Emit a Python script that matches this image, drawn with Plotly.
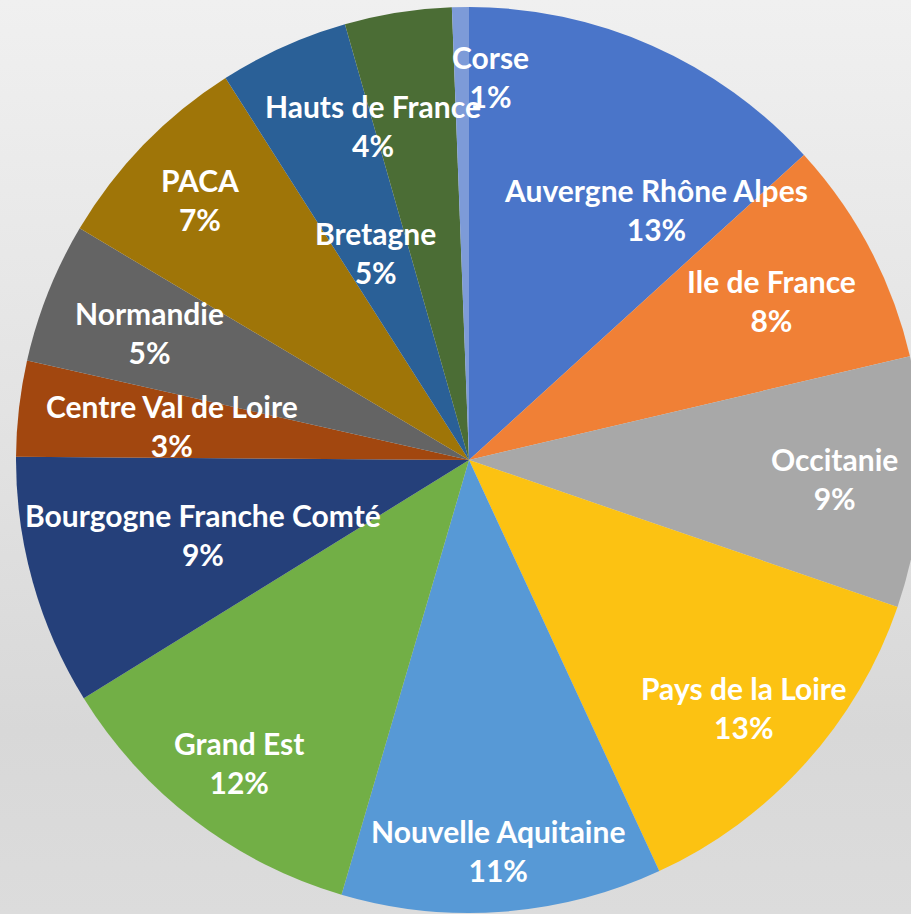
import math
import plotly.graph_objects as go

# ---- data ----
regions = ["Auvergne Rhône Alpes", "Ile de France", "Occitanie", "Pays de la Loire",
           "Nouvelle Aquitaine", "Grand Est", "Bourgogne Franche Comté",
           "Centre Val de Loire", "Normandie", "PACA", "Bretagne",
           "Hauts de France", "Corse"]
shares = [13.2, 8.05, 8.9, 12.8, 11.4, 11.6, 8.9, 3.4, 5.0, 7.4, 4.6, 3.8, 0.6]

# ---- style ----
colors = ["#4a75c9", "#f08036", "#a8a8a8", "#fcc212", "#5799d6", "#72af46",
          "#25407a", "#a2470f", "#646464", "#9f7508", "#2a6097", "#4b6d35",
          "#7d9bd8"]
# label placement: distance as fraction of radius, angular shift (deg)
label_dist = [0.69, 0.755, 0.807, 0.816, 0.864, 0.839, 0.61, 0.66, 0.76, 0.826, 0.503, 0.768, 0.849]
label_shift = [12.9, 0, 0, 0, 0, 0, 0, 0, 0, 0, 0, -7.0, 4.35]

W, H = 930, 914
CX, CY, R = 469, 460, 453

fig = go.Figure()

# background gradient
fig.add_trace(go.Scatter(
    x=[0, 1, 1, 0, 0], y=[0, 0, 1, 1, 0], mode="lines", fill="toself",
    line=dict(width=0), hoverinfo="skip", showlegend=False,
    fillgradient=dict(type="vertical", start=0, stop=1,
                      colorscale=[[0, "#dcdcdc"], [0.2, "#d8d8d8"], [0.55, "#e3e3e3"], [1, "#f0f0f0"]]),
))

fig.add_trace(go.Pie(
    labels=regions, values=shares, sort=False, direction="clockwise", rotation=0,
    marker=dict(colors=colors, line=dict(width=0)),
    textinfo="none", hoverinfo="label+percent", showlegend=False,
    domain=dict(x=[(CX - R) / W, min(1, (CX + R) / W)],
                y=[max(0, 1 - (CY + R) / H), min(1, 1 - (CY - R) / H)]),
))

total = sum(shares)
cum = 0.0
for name, v, d, s in zip(regions, shares, label_dist, label_shift):
    mid = (cum + v / 2) / total * 360 + s
    cum += v
    px = CX + d * R * math.sin(math.radians(mid))
    py = CY - d * R * math.cos(math.radians(mid))
    pct = round(v / total * 100)
    fig.add_annotation(
        x=px / W, y=1 - py / H, xref="paper", yref="paper",
        text=f"{name}<br>{pct}%", showarrow=False,
        xanchor="center", yanchor="middle",
        font=dict(family="Lato", size=30, color="white", weight="bold"),
    )

fig.update_layout(
    width=W, height=H, margin=dict(l=0, r=0, t=0, b=0),
    paper_bgcolor="#e6e6e6", plot_bgcolor="rgba(0,0,0,0)",
    xaxis=dict(visible=False, range=[0, 1], domain=[0, 1], fixedrange=True),
    yaxis=dict(visible=False, range=[0, 1], domain=[0, 1], fixedrange=True),
    showlegend=False,
)

fig.write_html(
    "out.html",
    config={"displayModeBar": False},
    post_script="document.documentElement.style.overflow='hidden';"
                "document.body.style.margin='0';document.body.style.overflow='hidden';",
)
